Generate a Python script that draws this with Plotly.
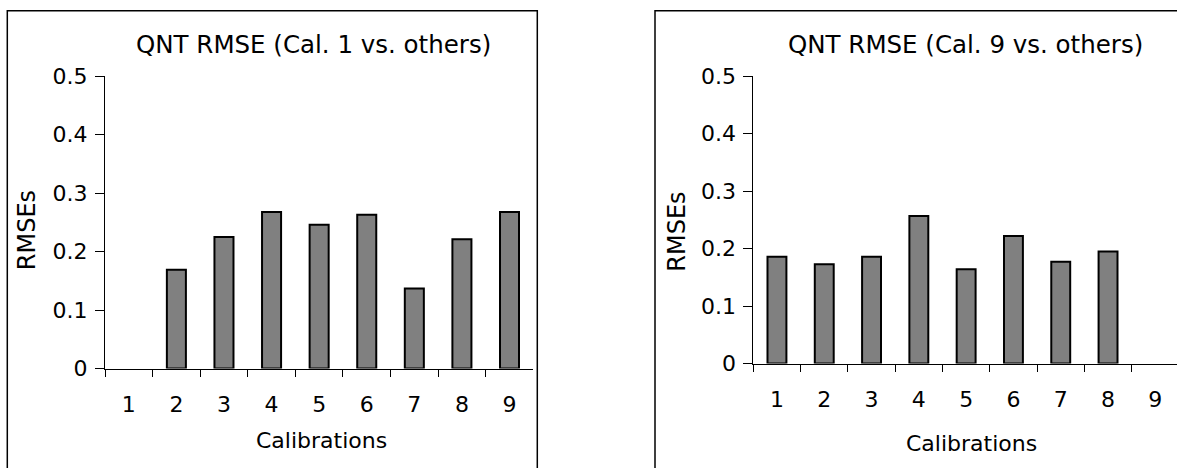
import plotly.graph_objects as go

# ---- data ----
calibrations = ["1", "2", "3", "4", "5", "6", "7", "8", "9"]
rmse_cal1 = [None, 0.169, 0.225, 0.268, 0.246, 0.263, 0.137, 0.221, 0.268]
rmse_cal9 = [0.186, 0.173, 0.186, 0.257, 0.164, 0.222, 0.177, 0.195, None]
titles = ["QNT RMSE (Cal. 1 vs. others)", "QNT RMSE (Cal. 9 vs. others)"]
x_title = "Calibrations"
y_title = "RMSEs"

W, H = 1177, 468
FONT = "DejaVu Sans"

def px(x):
    return x / W

def py(y):
    return 1 - y / H

bar_style = dict(color="#808080", line=dict(color="black", width=2))

fig = go.Figure()
fig.add_trace(go.Bar(x=calibrations, y=rmse_cal1, xaxis="x", yaxis="y",
                     marker=bar_style, width=0.4, showlegend=False, hoverinfo="x+y"))
fig.add_trace(go.Bar(x=calibrations, y=rmse_cal9, xaxis="x2", yaxis="y2",
                     marker=bar_style, width=0.4, showlegend=False, hoverinfo="x+y"))

xcommon = dict(type="category", categoryorder="array", categoryarray=calibrations,
               tickson="boundaries", ticks="outside", ticklen=7, tickwidth=1,
               tickcolor="black", showline=True, linecolor="black", linewidth=1,
               showgrid=False, zeroline=False, automargin=False,
               tickfont=dict(size=22, color="black", family=FONT),
               ticklabelstandoff=16, fixedrange=True)
ycommon = dict(range=[0, 0.5], tick0=0, dtick=0.1, ticks="outside", ticklen=9, tickwidth=1,
               tickcolor="black", showline=True, linecolor="black", linewidth=1,
               showgrid=False, zeroline=False, automargin=False,
               tickfont=dict(size=22, color="black", family=FONT),
               ticklabelstandoff=3, fixedrange=True)

fig.update_layout(
    template="none",
    width=W, height=H,
    margin=dict(l=0, r=0, t=0, b=0, pad=0, autoexpand=False),
    paper_bgcolor="white", plot_bgcolor="white",
    font=dict(family=FONT, color="black"),
    xaxis=dict(domain=[px(105), px(533.3)], anchor="y", range=[-0.5, 8.5], **xcommon),
    yaxis=dict(domain=[py(368.5), py(76.3)], anchor="x", **ycommon),
    xaxis2=dict(domain=[px(753.3), 1.0], anchor="y2", range=[-0.5, 8.458], **xcommon),
    yaxis2=dict(domain=[py(363.5), py(76.3)], anchor="x2", **ycommon),
    shapes=[
        dict(type="rect", xref="paper", yref="paper", x0=px(7.3), x1=px(537.3),
             y0=-0.05, y1=py(10.7), line=dict(color="black", width=1.5), fillcolor="rgba(0,0,0,0)", layer="below"),
        dict(type="rect", xref="paper", yref="paper", x0=px(655), x1=1.05,
             y0=-0.05, y1=py(10.7), line=dict(color="black", width=1.5), fillcolor="rgba(0,0,0,0)", layer="below"),
    ],
    annotations=[
        dict(text=titles[0], x=px(313), y=py(44), xref="paper", yref="paper",
             xanchor="center", yanchor="middle", showarrow=False, font=dict(size=24.5, family=FONT)),
        dict(text=titles[1], x=px(965.3), y=py(44), xref="paper", yref="paper",
             xanchor="center", yanchor="middle", showarrow=False, font=dict(size=24.5, family=FONT)),
        dict(text=x_title, x=px(321.5), y=py(440), xref="paper", yref="paper",
             xanchor="center", yanchor="middle", showarrow=False, font=dict(size=22, family=FONT)),
        dict(text=x_title, x=px(971), y=py(443), xref="paper", yref="paper",
             xanchor="center", yanchor="middle", showarrow=False, font=dict(size=22, family=FONT)),
        dict(text=y_title, x=px(27.2), y=py(230), xref="paper", yref="paper", textangle=-90,
             xanchor="center", yanchor="middle", showarrow=False, font=dict(size=24, family=FONT)),
        dict(text=y_title, x=px(676.7), y=py(232), xref="paper", yref="paper", textangle=-90,
             xanchor="center", yanchor="middle", showarrow=False, font=dict(size=24, family=FONT)),
    ],
)

post = """
document.documentElement.style.margin='0';
document.body.style.margin='0';
document.body.style.overflow='hidden';
"""

fig.write_html("out.html", config={"displayModeBar": False, "staticPlot": True}, post_script=post)
